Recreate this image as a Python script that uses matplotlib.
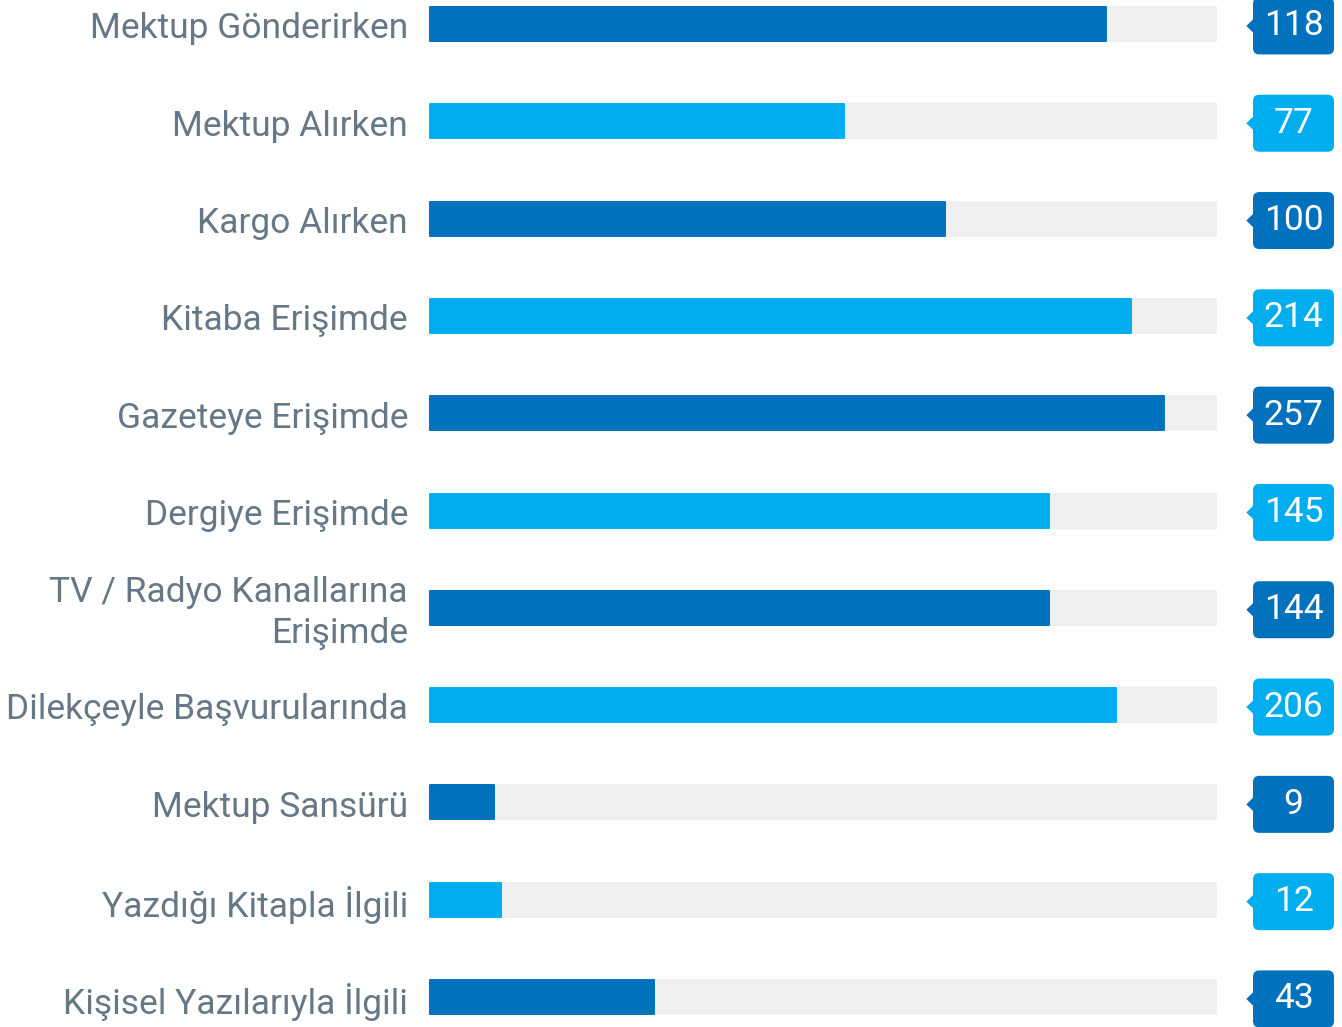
import matplotlib
matplotlib.use("Agg")
import matplotlib.pyplot as plt
from matplotlib.patches import FancyBboxPatch, Polygon

categories = ["Mektup Gönderirken", "Mektup Alırken", "Kargo Alırken", "Kitaba Erişimde",
              "Gazeteye Erişimde", "Dergiye Erişimde", "TV / Radyo Kanallarına\nErişimde",
              "Dilekçeyle Başvurularında", "Mektup Sansürü", "Yazdığı Kitapla İlgili",
              "Kişisel Yazılarıyla İlgili"]
values = [118, 77, 100, 214, 257, 145, 144, 206, 9, 12, 43]
# bar fill fraction as drawn in the infographic
fill = [0.860, 0.528, 0.656, 0.892, 0.934, 0.788, 0.788, 0.873, 0.084, 0.093, 0.287]

DARK = "#0071BC"
LIGHT = "#00AEEF"
TRACK = "#EFEFEF"
TEXT = "#667886"
colors = [DARK if i % 2 == 0 else LIGHT for i in range(len(values))]

W, H = 1342, 1027
fig = plt.figure(figsize=(W / 100, H / 100), dpi=100)
ax = fig.add_axes([429 / W, 0, 788 / W, 1])
n = len(values)
ypos = list(range(n))
ax.set_xlim(0, 1)
ax.set_ylim(10 + 30 / 97.3, -24 / 97.3)
ax.axis("off")

bh = 34 / 97.3
lw = 1.4
ax.barh(ypos, [1 - 0.002] * n, left=0.001, height=bh, color=TRACK, edgecolor=TRACK,
        linewidth=lw, joinstyle="round", zorder=1)
bars = ax.barh(ypos, [f - 0.002 for f in fill], left=0.001, height=bh, color=colors,
               edgecolor=colors, linewidth=lw, zorder=2)
for b in bars:
    b.set_joinstyle("round")

font = ["Roboto", "DejaVu Sans"]
for i, (cat, v, c) in enumerate(zip(categories, values, colors)):
    ax.text(-0.0266, i + 0.05, cat, ha="right", va="center", fontsize=25.5,
            color=TEXT, family=font, linespacing=1.3)
    # badge
    bx0, bx1 = 1.0457, 1.1485
    bhh = 0.586
    yc = i + 0.02
    badge = FancyBboxPatch((bx0, yc - bhh / 2), bx1 - bx0, bhh,
                           boxstyle="round,pad=0,rounding_size=0.008",
                           mutation_aspect=788 / 97.3,
                           facecolor=c, edgecolor="none", clip_on=False, zorder=3)
    ax.add_patch(badge)
    tri = Polygon([(bx0 + 0.001, yc - 0.075), (bx0 - 0.0085, yc), (bx0 + 0.001, yc + 0.075)],
                  closed=True, facecolor=c, edgecolor="none", clip_on=False, zorder=3)
    ax.add_patch(tri)
    ax.text((bx0 + bx1) / 2, yc, str(v), ha="center", va="center", fontsize=25.5,
            color="white", family=font, clip_on=False, zorder=4)

fig.savefig("out.png", dpi=100)
